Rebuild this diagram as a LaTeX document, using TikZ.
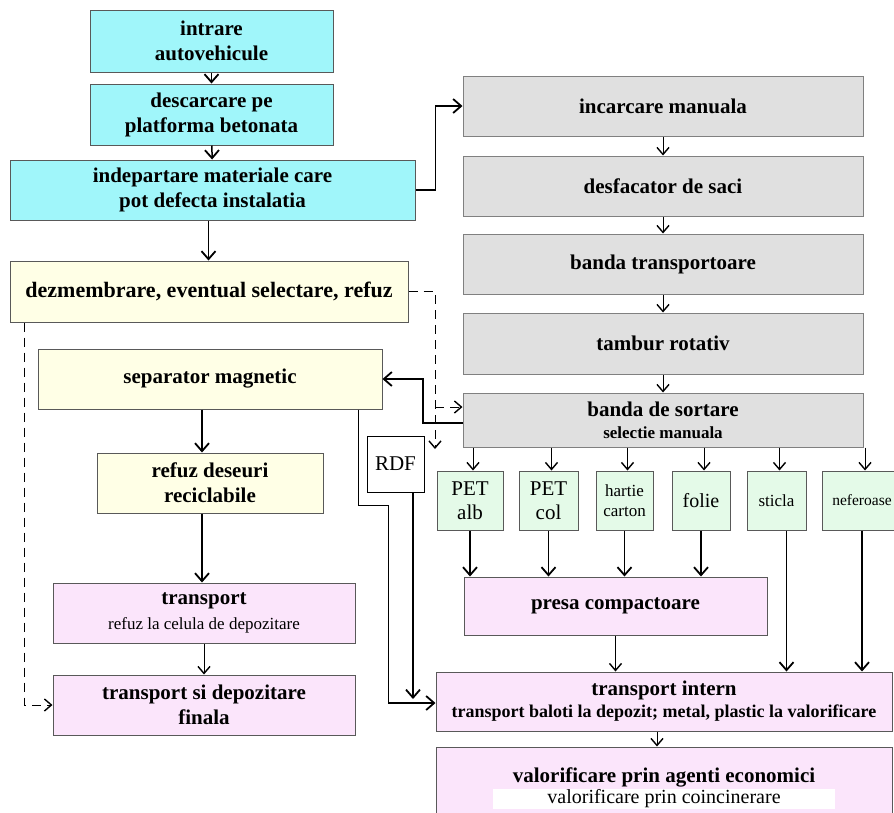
\documentclass[tikz,border=0pt]{standalone}
\usepackage{fontspec}
\setmainfont{Liberation Serif}
\usetikzlibrary{arrows.meta}
\definecolor{boxcyan}{RGB}{160,246,250}
\definecolor{boxcream}{RGB}{255,255,230}
\definecolor{boxgray}{RGB}{224,224,224}
\definecolor{boxgreen}{RGB}{228,250,232}
\definecolor{boxpink}{RGB}{251,229,251}
\newcommand{\sublbl}{\fontsize{17}{20}\selectfont}

\begin{document}
\begin{tikzpicture}[x=1pt, y=-1pt,
        block/.style={rectangle, draw=black!65, line width=1pt, text centered, align=center, inner sep=2pt, font=\fontsize{21}{25}\selectfont\bfseries},
        graybox/.style={block, fill=boxgray, draw=black!50, minimum width=400pt, minimum height=60pt},
        greenbox/.style={block, fill=boxgreen, minimum height=59pt, font=\fontsize{17}{20}\selectfont},
        arrow/.style={-{Straight Barb[length=8pt,width=14pt,line width=1.8pt]}, line width=1.5pt},
        thinarrow/.style={-{Straight Barb[length=7pt,width=12pt,line width=1.4pt]}, line width=0.9pt},
        dasharrow/.style={-{Straight Barb[length=7pt,width=12pt,line width=1.4pt]}, line width=1pt, dash pattern=on 9pt off 6pt}
    ]
        \useasboundingbox (0,0) rectangle (894,812);
        \clip (0,0) rectangle (894,812);

        % Reception
        \node[block, fill=boxcyan, minimum width=243pt, minimum height=62pt] (intrare) at (211.5,41) {intrare\\autovehicule};
        \node[block, fill=boxcyan, minimum width=243pt, minimum height=61pt] (descarcare) at (211.5,114.5) {descarcare pe\\platforma betonata};
        \node[block, fill=boxcyan, minimum width=405pt, minimum height=60pt] (indepartare) at (212.5,190) {indepartare materiale care\\pot defecta instalatia};

        % Left branch
        \node[block, fill=boxcream, minimum width=398pt, minimum height=61pt, font=\fontsize{22}{25}\selectfont\bfseries] (dezmembrare) at (209,291.5) {dezmembrare, eventual selectare, refuz};
        \node[block, fill=boxcream, minimum width=344pt, minimum height=60pt] (separator) at (210,379) {separator magnetic};
        \node[block, fill=boxcream, minimum width=226pt, minimum height=60pt] (refuz) at (210,483) {refuz deseuri\\reciclabile};
        \node[block, fill=boxpink, minimum width=302pt, minimum height=60pt] (transport) at (204,613) {transport\\{\sublbl\mdseries refuz la celula de depozitare}};
        \node[block, fill=boxpink, minimum width=302pt, minimum height=60pt] (final) at (204,705) {transport si depozitare\\finala};

        % Sorting line
        \node[graybox] (incarcare) at (663,106) {incarcare manuala};
        \node[graybox] (desfacator) at (663,186) {desfacator de saci};
        \node[graybox] (banda) at (663,264) {banda transportoare};
        \node[graybox, minimum height=61pt] (tambur) at (663,343.5) {tambur rotativ};
        \node[graybox, minimum height=54pt] (sortare) at (663,420) {banda de sortare\\[-3pt]{\sublbl selectie manuala}};

        \node[block, fill=white, draw=black, minimum width=57pt, minimum height=56pt, font=\fontsize{21}{24}\selectfont] (rdf) at (395.5,464) {RDF};

        % Sorted fractions
        \node[greenbox, minimum width=66pt, font=\fontsize{21}{24}\selectfont] (petalb) at (470,500.5) {PET\\alb};
        \node[greenbox, minimum width=59pt, font=\fontsize{21}{24}\selectfont] (petcol) at (548.5,500.5) {PET\\col};
        \node[greenbox, minimum width=57pt] (hartie) at (624.5,500.5) {hartie\\carton};
        \node[greenbox, minimum width=58pt, font=\fontsize{20}{23}\selectfont] (folie) at (701,500.5) {folie};
        \node[greenbox, minimum width=59pt] (sticla) at (776.5,500.5) {sticla};
        \node[greenbox, minimum width=80pt, font=\fontsize{15.5}{18}\selectfont] (nefer) at (862,500.5) {neferoase};

        % Final treatment
        \node[block, fill=boxpink, minimum width=303pt, minimum height=58pt] (presa) at (615.5,606) {presa compactoare};
        \node[block, fill=boxpink, minimum width=456pt, minimum height=59pt] (intern) at (664,701.5) {transport intern\\[-3pt]{\fontsize{18}{21}\selectfont transport baloti la depozit; metal, plastic la valorificare}};
        \node[block, fill=boxpink, minimum width=456pt, minimum height=83pt] (valorif) at (664,788.5) {valorificare prin agenti economici\\[-4pt]{\setlength{\fboxsep}{1pt}\colorbox{white}{\makebox[340pt]{\mdseries\fontsize{20}{22}\selectfont valorificare prin coincinerare}}}};

        % Main flow
        \draw[arrow] (intrare) -- (descarcare);
        \draw[arrow] (descarcare) -- (indepartare);
        \draw[arrow] ([xshift=-4pt]indepartare.south) -- ([xshift=-4pt]indepartare.south |- dezmembrare.north);
        \draw[arrow] (indepartare.east) -- ++(20,0) |- (incarcare.west);
        \foreach \a/\b in {incarcare/desfacator, desfacator/banda, banda/tambur, tambur/sortare}
            \draw[thinarrow] (\a) -- (\b);

        % Dashed by-passes
        \coordinate (dashsplit) at (435,407);
        \coordinate (dashend) at (435,449);
        \draw[dasharrow] (dezmembrare.east) -| (dashend);
        \draw[dasharrow] (dashsplit) -- (dashsplit -| sortare.west);
        \draw[dasharrow] ([xshift=15pt]dezmembrare.south west) |- (final.west);

        % Left column
        \draw[arrow] (sortare.west |- 0,423) -- (423,423) |- (separator.east);
        \draw[arrow] ([xshift=-8pt]separator.south) -- ([xshift=-8pt]separator.south |- refuz.north);
        \draw[arrow] ([xshift=-8pt]refuz.south) -- ([xshift=-8pt]refuz.south |- transport.north);
        \draw[thinarrow] (transport) -- (final);
        \draw[arrow] ([xshift=-24pt]separator.south east) -- ++(0,96) -- ++(30,0) |- (intern.west |- 0,703);
        \coordinate (rdfend) at (413,699);
        \draw[arrow] (rdf.south -| rdfend) -- (rdfend);

        % Sorting outputs
        \foreach \n in {petalb, petcol, hartie, folie, sticla, nefer}
            \draw[thinarrow] ([xshift=3pt]\n.north |- sortare.south) -- ([xshift=3pt]\n.north);
        \foreach \n in {petalb, petcol, hartie, folie}
            \draw[arrow] (\n.south) -- (\n.south |- presa.north);
        \draw[arrow] ([xshift=10pt]sticla.south) -- ([xshift=10pt]sticla.south |- intern.north);
        \draw[arrow] (nefer.south) -- (nefer.south |- intern.north);
        \draw[thinarrow] (presa.south) -- (presa.south |- intern.north);
        \draw[thinarrow] ([xshift=-7pt]intern.south) -- ([xshift=-7pt]intern.south |- valorif.north);
    \end{tikzpicture}
\end{document}
